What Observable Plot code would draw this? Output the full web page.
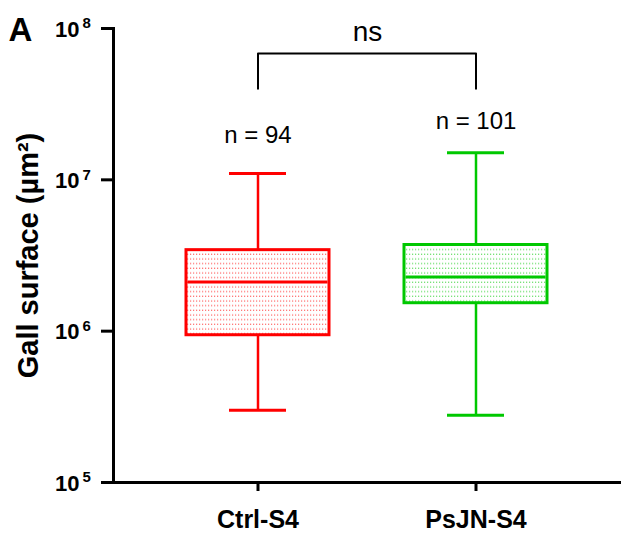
<!DOCTYPE html>
<html><head><meta charset="utf-8">
<script src="https://cdn.jsdelivr.net/npm/d3@7"></script>
<script src="https://cdn.jsdelivr.net/npm/@observablehq/plot@0.6"></script>
<style>body{margin:0;background:#fff}</style>
</head><body><div id="chart"></div>
<script>
const categories = ["Ctrl-S4", "PsJN-S4"];
const colors = ["#ff0000", "#00c800"];
const patternIds = ["dotsRed", "dotsGreen"];
const whiskerLow = [3.0e5, 2.78e5];
const q1 = [9.4e5, 1.53e6];
const medians = [2.11e6, 2.28e6];
const q3 = [3.43e6, 3.71e6];
const whiskerHigh = [1.10e7, 1.51e7];
const nLabels = ["n = 94", "n = 101"];
const nLabelY = [1.98e7, 2.45e7];
const yTicks = [1e5, 1e6, 1e7, 1e8];
const yExponents = ["5", "6", "7", "8"];
const bracketY = [4.0e7, 6.84e7];
const sigLabel = "ns";
const sigY = 9.5e7;
const yTitle = "Gall surface (µm²)";
const panelLabel = "A";

const rows = categories.map((c, i) => ({
  cat: c, color: colors[i], fill: `url(#${patternIds[i]})`,
  lo: whiskerLow[i], q1: q1[i], med: medians[i], q3: q3[i], hi: whiskerHigh[i],
  n: nLabels[i], ny: nLabelY[i]
}));
const bracket = [
  {x: categories[0], y: bracketY[0]}, {x: categories[0], y: bracketY[1]},
  {x: categories[1], y: bracketY[1]}, {x: categories[1], y: bracketY[0]}
];
const tickRows = yTicks.map((v, i) => ({v, e: yExponents[i]}));

const font = "'Liberation Sans', Arial, Helvetica, sans-serif";

const svg = Plot.plot({
  width: 621, height: 533,
  marginLeft: 113, marginRight: 0, marginTop: 28, marginBottom: 51,
  style: {fontFamily: font, background: "white", color: "black"},
  x: {type: "band", domain: categories, range: [149, 585], paddingInner: 0.344, paddingOuter: 0.172, axis: null},
  y: {type: "log", domain: [1e5, 1e8], range: [482, 28], axis: null},
  color: {type: "identity"},
  marks: [
    Plot.barY(rows, {x: "cat", y1: "q1", y2: "q3", fill: "fill", stroke: "color", strokeWidth: 3}),
    Plot.ruleX(rows, {x: "cat", y1: "lo", y2: "q1", stroke: "color", strokeWidth: 2.5}),
    Plot.ruleX(rows, {x: "cat", y1: "q3", y2: "hi", stroke: "color", strokeWidth: 2.5}),
    Plot.tickY(rows, {x: "cat", y: "med", stroke: "color", strokeWidth: 3, inset: 1.5}),
    Plot.tickY(rows, {x: "cat", y: "lo", stroke: "color", strokeWidth: 3, inset: 43}),
    Plot.tickY(rows, {x: "cat", y: "hi", stroke: "color", strokeWidth: 3, inset: 43}),
    Plot.text(rows, {x: "cat", y: "ny", text: "n", fontSize: 24, fill: "black"}),
    Plot.line(bracket, {x: "x", y: "y", stroke: "black", strokeWidth: 2}),
    Plot.text([sigLabel], {y: () => sigY, text: d => d, fontSize: 28, fill: "black"}),
    Plot.axisY({ticks: yTicks, tickSize: 12, tickFormat: () => "", strokeWidth: 3, label: null}),
    Plot.text(tickRows, {y: "v", text: () => "10", frameAnchor: "left", textAnchor: "end", dx: -34, dy: 1, fontSize: 22, fontWeight: "bold", fill: "black"}),
    Plot.text(tickRows, {y: "v", text: "e", frameAnchor: "left", textAnchor: "start", dx: -31, dy: -5, fontSize: 15, fontWeight: "bold", fill: "black"}),
    Plot.axisX({tickSize: 9, strokeWidth: 3, tickPadding: 19, fontSize: 25, fontWeight: "bold", label: null}),
    Plot.frame({anchor: "left", strokeWidth: 3}),
    Plot.frame({anchor: "bottom", strokeWidth: 3}),
    Plot.text([yTitle], {text: d => d, frameAnchor: "left", textAnchor: "middle", lineAnchor: "middle", rotate: -90, dx: -85, fontSize: 29, fontWeight: "bold", fill: "black"}),
    Plot.text([panelLabel], {text: d => d, frameAnchor: "top-left", textAnchor: "start", lineAnchor: "middle", dx: -105, dy: 2, fontSize: 33, fontWeight: "bold", fill: "black"})
  ]
});

const ns = "http://www.w3.org/2000/svg";
const defs = document.createElementNS(ns, "defs");
patternIds.forEach((id, i) => {
  const p = document.createElementNS(ns, "pattern");
  p.setAttribute("id", id);
  p.setAttribute("patternUnits", "userSpaceOnUse");
  p.setAttribute("width", "3");
  p.setAttribute("height", "4.67");
  const bg = document.createElementNS(ns, "rect");
  bg.setAttribute("width", "3"); bg.setAttribute("height", "4.67"); bg.setAttribute("fill", "white");
  const dot = document.createElementNS(ns, "rect");
  dot.setAttribute("x", "1"); dot.setAttribute("y", "1.5");
  dot.setAttribute("width", "1.2"); dot.setAttribute("height", "1.2");
  dot.setAttribute("fill", colors[i]); dot.setAttribute("fill-opacity", "0.6");
  p.appendChild(bg); p.appendChild(dot);
  defs.appendChild(p);
});
svg.insertBefore(defs, svg.firstChild);
document.getElementById("chart").appendChild(svg);
</script>
</body></html>
